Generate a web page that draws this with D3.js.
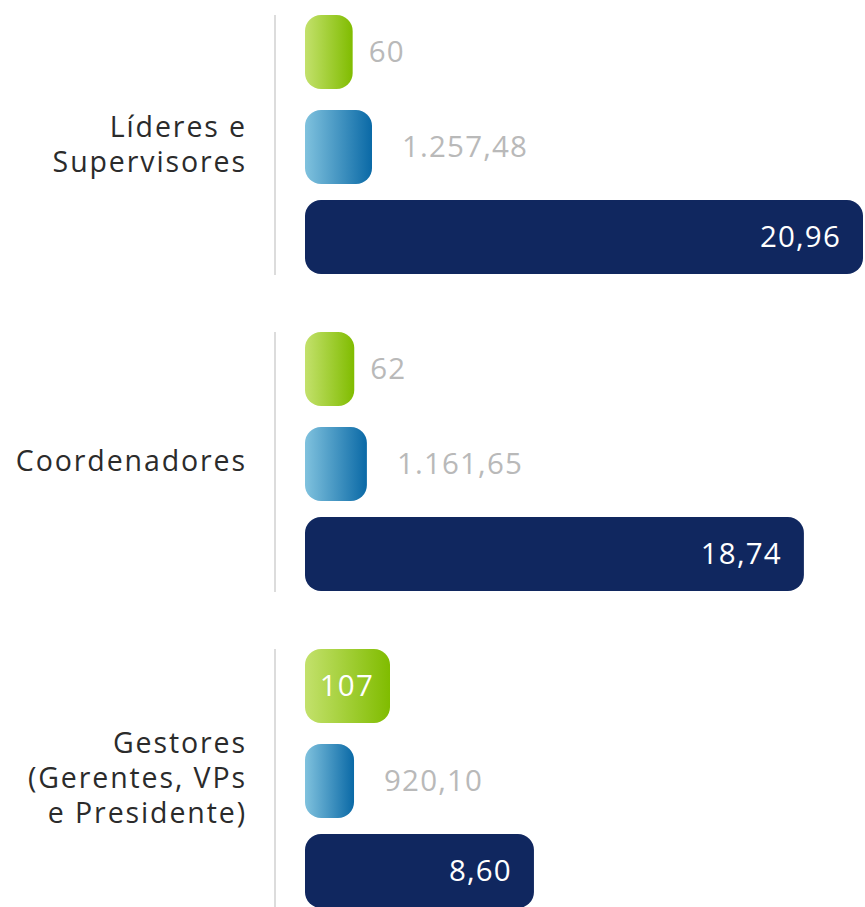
<!DOCTYPE html>
<html>
<head>
<meta charset="utf-8">
<script src="https://cdn.jsdelivr.net/npm/d3@7/dist/d3.min.js"></script>
<style>
  html, body { margin: 0; padding: 0; background: #fff; }
  svg { display: block; }
</style>
</head>
<body>
<svg id="chart" width="865" height="907"></svg>
<script>
// Groups (job levels), each with three measures
const categories = [
  ["Líderes e", "Supervisores"],
  ["Coordenadores"],
  ["Gestores", "(Gerentes, VPs", "e Presidente)"]
];
const participants = [60, 62, 107];
const totalHours = [1257.48, 1161.65, 920.10];
const hoursPerPerson = [20.96, 18.74, 8.60];

const participantsLabels = ["60", "62", "107"];
const totalHoursLabels = ["1.257,48", "1.161,65", "920,10"];
const perPersonLabels = ["20,96", "18,74", "8,60"];

const svg = d3.select("#chart");
const FONT = "'Open Sans', Lato, sans-serif";

// Gradients for the first two bar series
const defs = svg.append("defs");
function grad(id, c0, c1) {
  const g = defs.append("linearGradient").attr("id", id)
    .attr("x1", "0%").attr("x2", "100%").attr("y1", "0%").attr("y2", "0%");
  g.append("stop").attr("offset", "0%").attr("stop-color", c0);
  g.append("stop").attr("offset", "100%").attr("stop-color", c1);
}
grad("gGreen", "#c3e16c", "#80bc00");
grad("gBlue", "#80c2de", "#0a69a6");

const x0 = 305;
// Each measure has its own horizontal scale
const xGreen = d3.scaleLinear().domain([0, d3.max(participants)]).range([0, 85]);
const xBlue = d3.scaleLinear().domain([0, d3.max(totalHours)]).range([0, 67]);
const xNavy = d3.scaleLinear().domain([0, d3.max(hoursPerPerson)]).range([0, 558]);

// Group placement
const yGroup = d3.scaleBand().domain(d3.range(categories.length)).range([15, 15 + 317 * 3]);
const barH = 74;
const rowOffsets = [0, 95, 185];

const series = [
  { values: participants, labels: participantsLabels, scale: xGreen, fill: "url(#gGreen)", gap: 16, insideMin: 80 },
  { values: totalHours, labels: totalHoursLabels, scale: xBlue, fill: "url(#gBlue)", gap: 30, insideMin: 9999 },
  { values: hoursPerPerson, labels: perPersonLabels, scale: xNavy, fill: "#10275f", gap: 0, insideMin: 0 }
];

categories.forEach((lines, i) => {
  const gy = yGroup(i);
  const g = svg.append("g");

  // vertical separator
  const groupBottom = gy + rowOffsets[2] + barH;
  g.append("line")
    .attr("x1", 275).attr("x2", 275)
    .attr("y1", gy).attr("y2", Math.min(groupBottom + 1, 907))
    .attr("stroke", "#dcdcdc").attr("stroke-width", 2);

  // category label, right aligned, vertically centred on the group
  const cy = (gy + groupBottom) / 2;
  const lh = 35;
  const t = g.append("text")
    .attr("text-anchor", "end")
    .attr("font-family", FONT)
    .attr("font-size", 28.5)
    .attr("letter-spacing", 1.9)
    .attr("fill", "#2b2b2b");
  lines.forEach((ln, k) => {
    t.append("tspan")
      .attr("x", 247)
      .attr("y", cy + (k - (lines.length - 1) / 2) * lh)
      .attr("dy", "0.35em")
      .text(ln);
  });

  series.forEach((s, j) => {
    const v = s.values[i];
    const w = s.scale(v);
    const y = gy + rowOffsets[j];
    g.append("rect")
      .attr("x", x0).attr("y", y)
      .attr("width", w).attr("height", barH)
      .attr("rx", 16).attr("ry", 16)
      .attr("fill", s.fill);

    const inside = w >= s.insideMin;
    g.append("text")
      .attr("x", inside ? x0 + w - (j === 2 ? 22 : 16) : x0 + w + s.gap)
      .attr("y", y + barH / 2)
      .attr("dy", "0.35em")
      .attr("text-anchor", inside ? "end" : "start")
      .attr("font-family", FONT)
      .attr("font-size", 29.5)
      .attr("letter-spacing", 1.2)
      .attr("fill", inside ? "#ffffff" : "#b9b9b9")
      .text(s.labels[i]);
  });
});
</script>
</body>
</html>
